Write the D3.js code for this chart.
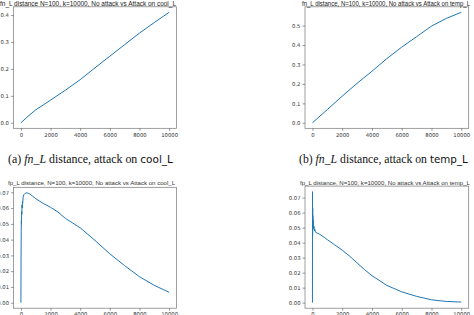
<!DOCTYPE html>
<html>
<head>
<meta charset="utf-8">
<script src="https://cdn.jsdelivr.net/npm/d3@7"></script>
<style>
  body { margin: 0; background: #fff; }
  svg { display: block; }
</style>
</head>
<body>
<div id="chart-area"></div>
<script>
// data
const coolFnX = [0, 500, 1000, 1500, 2000, 3000, 4000, 5000, 6000, 7000, 8000, 9000, 10000]
const coolFnY = [0, 0.025, 0.048, 0.066, 0.084, 0.121, 0.160, 0.204, 0.247, 0.290, 0.333, 0.372, 0.410]

const tempFnX = [0, 1000, 2000, 3000, 4000, 5000, 6000, 7000, 8000, 9000, 10000]
const tempFnY = [0, 0.068, 0.137, 0.203, 0.265, 0.330, 0.389, 0.443, 0.497, 0.537, 0.568]

const coolFpX = [0, 10, 20, 30, 40, 50, 60, 75, 90, 100, 120, 150, 200, 300, 400, 500, 600, 800, 1000, 1500, 2000, 2500, 3000, 3500, 4000, 5000, 6000, 7000, 8000, 9000, 10000]
const coolFpY = [0, 0.028, 0.045, 0.052, 0.050, 0.058, 0.056, 0.062, 0.060, 0.064, 0.063, 0.067, 0.0685, 0.0695, 0.0697, 0.0693, 0.069, 0.0675, 0.066, 0.063, 0.0605, 0.0575, 0.0535, 0.0505, 0.0475, 0.0395, 0.031, 0.0235, 0.0165, 0.011, 0.0066]

const tempFpX = [0, 5, 10, 15, 20, 25, 30, 40, 50, 60, 80, 100, 130, 160, 200, 300, 500, 800, 1000, 1500, 2000, 2500, 3000, 3500, 4000, 5000, 6000, 7000, 8000, 9000, 10000]
const tempFpY = [0, 0.074, 0.045, 0.063, 0.050, 0.058, 0.052, 0.055, 0.049, 0.053, 0.050, 0.051, 0.048, 0.049, 0.047, 0.0465, 0.0455, 0.0435, 0.042, 0.0385, 0.035, 0.031, 0.0265, 0.022, 0.018, 0.0115, 0.0072, 0.0042, 0.0019, 0.0008, 0.0004]

const xTicks = [0, 2000, 4000, 6000, 8000, 10000]
const fnTicksCool = [0, 0.1, 0.2, 0.3, 0.4]
const fnTicksTemp = [0, 0.1, 0.2, 0.3, 0.4, 0.5]
const fpTicks = [0, 0.01, 0.02, 0.03, 0.04, 0.05, 0.06, 0.07]

const titles = [
  "fn_L distance N=100, k=10000, No attack vs Attack on cool_L",
  "fn_L distance,  N=100, k=10000, No attack vs Attack on temp_L",
  "fp_L distance, N=100, k=10000, No attack vs Attack on cool_L",
  "fp_L distance, N=100, k=10000, No attack vs Attack on temp_L"
]

const W = 474, H = 315
const svg = d3.select("#chart-area").append("svg")
    .attr("width", W)
    .attr("height", H)
    .style("font-family", "'Liberation Sans', Arial, sans-serif")

const panels = [
  { xs: coolFnX, ys: coolFnY, ticks: fnTicksCool, fmt: ".1f", title: titles[0],
    box: { l: 13.5, r: 176.5, t: 6.8, b: 128.3 }, ty: 5.5, tx: [0, 176], top: true },
  { xs: tempFnX, ys: tempFnY, ticks: fnTicksTemp, fmt: ".1f", title: titles[1],
    box: { l: 305, r: 468.7, t: 6.8, b: 128.3 }, ty: 5.5, tx: [302, 470], top: true },
  { xs: coolFpX, ys: coolFpY, ticks: fpTicks, fmt: ".2f", title: titles[2],
    box: { l: 13.5, r: 176.5, t: 187.3, b: 308.2 }, ty: 185, tx: [8, 175] },
  { xs: tempFpX, ys: tempFpY, ticks: fpTicks, fmt: ".2f", title: titles[3],
    box: { l: 305, r: 468.7, t: 186.1, b: 308.2 }, ty: 185, tx: [300, 470] }
]

panels.forEach(function(p) {
  const b = p.box
  const xMax = d3.max(p.xs), yMax = d3.max(p.ys)
  const x = d3.scaleLinear()
      .domain([-0.05 * xMax, 1.05 * xMax])
      .range([b.l, b.r])
  const y = d3.scaleLinear()
      .domain([-0.05 * yMax, 1.05 * yMax])
      .range([b.b, b.t])

  const g = svg.append("g")

  // line
  const pts = p.xs.map((v, i) => [v, p.ys[i]])
  g.append("path")
      .datum(pts)
      .attr("fill", "none")
      .attr("stroke", "#1f77b4")
      .attr("stroke-width", 1)
      .attr("stroke-linejoin", "round")
      .attr("d", d3.line().x(d => x(d[0])).y(d => y(d[1])))

  // frame
  g.append("rect")
      .attr("x", b.l).attr("y", b.t)
      .attr("width", b.r - b.l).attr("height", b.b - b.t)
      .attr("fill", "none")
      .attr("stroke", "#777")
      .attr("stroke-width", 0.7)

  // X ticks
  const xAxisCall = d3.axisBottom(x)
      .tickValues(xTicks)
      .tickFormat(d3.format("d"))
      .tickSize(2.5)
      .tickPadding(2)
  const xa = g.append("g")
      .attr("transform", `translate(0, ${b.b})`)
      .call(xAxisCall)
  xa.select(".domain").remove()

  // Y ticks
  const yAxisCall = d3.axisLeft(y)
      .tickValues(p.ticks)
      .tickFormat(d3.format(p.fmt))
      .tickSize(2.5)
      .tickPadding(2)
  const ya = g.append("g")
      .attr("transform", `translate(${b.l}, 0)`)
      .call(yAxisCall)
  ya.select(".domain").remove()

  g.selectAll(".tick line").attr("stroke", "#555").attr("stroke-width", 0.6)
  g.selectAll(".tick text")
      .attr("fill", "#333")
      .attr("font-size", "5.3px")
      .attr("font-family", "'DejaVu Sans', sans-serif")

  // title
  g.append("text")
      .attr("x", p.tx[0])
      .attr("y", p.ty)
      .attr("textLength", p.tx[1] - p.tx[0])
      .attr("lengthAdjust", "spacingAndGlyphs")
      .attr("font-size", p.top ? "6.8px" : "6px")
      .attr("fill", p.top ? "#222" : "#333")
      .text(p.title)
})

// sub-figure captions, squeezed to the width they take in the picture
const captions = [
  { x: 8, tag: "(a) ", target: "cool_L", w: 165 },
  { x: 299, tag: "(b) ", target: "temp_L", w: 169 }
]
captions.forEach(function(c) {
  const cg = svg.append("g")
  const t = cg.append("text")
      .attr("x", 0)
      .attr("y", 0)
      .attr("font-size", "12.5px")
      .attr("font-family", "'Liberation Serif', 'Times New Roman', serif")
      .attr("fill", "#111")
  t.append("tspan").text(c.tag)
  t.append("tspan").attr("font-style", "italic").text("fn_L")
  t.append("tspan").text(" distance, attack on ")
  t.append("tspan").attr("font-family", "'DejaVu Sans', sans-serif").attr("font-size", "11px").text(c.target)
  const len = t.node().getComputedTextLength()
  cg.attr("transform", `translate(${c.x}, 162.5) scale(${c.w / len}, 1)`)
})
</script>
</body>
</html>
